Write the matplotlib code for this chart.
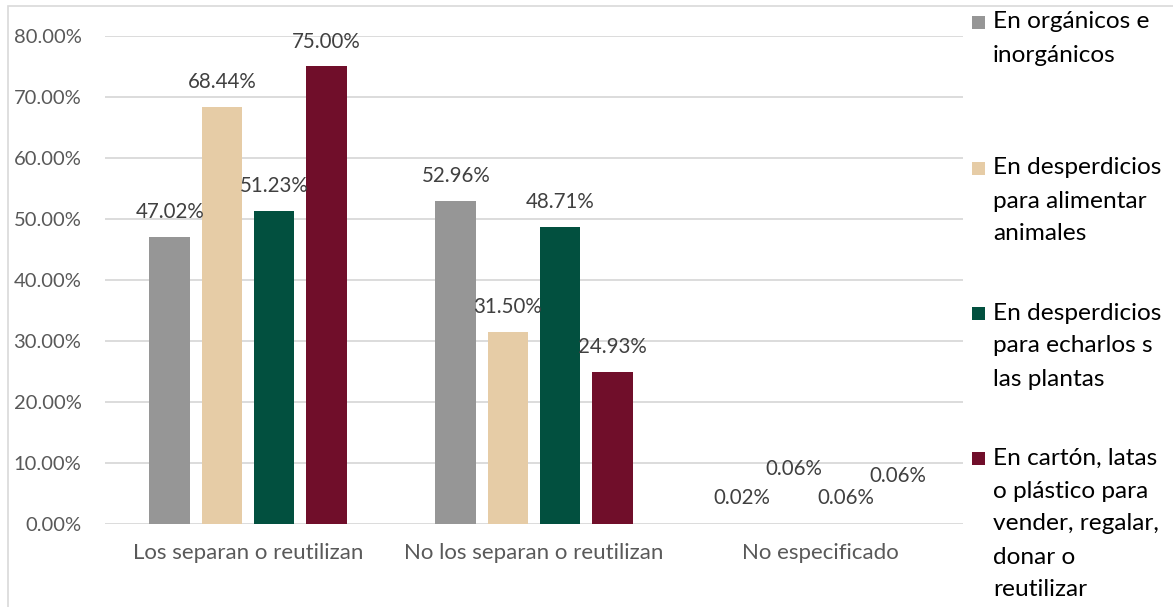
import matplotlib
matplotlib.use("Agg")
import matplotlib.pyplot as plt
from matplotlib.patches import Rectangle

categories = ["Los separan o reutilizan", "No los separan o reutilizan", "No especificado"]
series_names = [
    "En orgánicos e\ninorgánicos",
    "En desperdicios\npara alimentar\nanimales",
    "En desperdicios\npara echarlos s\nlas plantas",
    "En cartón, latas\no plástico para\nvender, regalar,\ndonar o\nreutilizar",
]
values = [
    [47.02, 52.96, 0.02],
    [68.44, 31.50, 0.06],
    [51.23, 48.71, 0.06],
    [75.00, 24.93, 0.06],
]
colors = ["#969696", "#E6CCA6", "#02503F", "#700E2A"]
yticks = [0, 10, 20, 30, 40, 50, 60, 70, 80]

# label offsets in pixels above bar top (Excel collision placement)
label_dy = [
    [25, 25, 26],
    [25, 25, 55],
    [25, 25, 26],
    [25, 25, 48],
]

plt.rcParams["font.family"] = ["Lato", "DejaVu Sans"]

W, H = 1173, 607
fig = plt.figure(figsize=(W / 100, H / 100), dpi=100)

# outer chart frame
fig.patches.append(Rectangle((8 / W, -0.1), 1.2, (H - 6) / H + 0.1,
                             transform=fig.transFigure, fill=False,
                             edgecolor="#D9D9D9", linewidth=1.2))

left, right = 105 / W, 963 / W
bottom, top = (H - 524) / H, (H - 36) / H
ax = fig.add_axes([left, bottom, right - left, top - bottom])

step = 0.182
width = 0.143
n = len(series_names)
for j, (name, vals, col) in enumerate(zip(series_names, values, colors)):
    xs = [i + (j - (n - 1) / 2) * step for i in range(len(categories))]
    ax.bar(xs, vals, width=width, color=col, label=name, zorder=3)
    for x, v, dy in zip(xs, vals, label_dy[j]):
        ax.annotate(f"{v:.2f}%", (x, v), xytext=(0, dy), textcoords="offset pixels",
                    ha="center", va="center", fontsize=14.8, color="#404040", zorder=4)

ax.set_xlim(-0.5, len(categories) - 0.5)
ax.set_ylim(0, 80)
ax.set_yticks(yticks)
ax.set_yticklabels([f"{t:.2f}%" for t in yticks], fontsize=14.5, color="#595959")
ax.set_xticks(range(len(categories)))
ax.set_xticklabels(categories, fontsize=16, color="#595959")
ax.tick_params(axis="y", length=0, pad=17)
ax.tick_params(axis="x", length=0, pad=14)
ax.grid(axis="y", color="#D9D9D9", linewidth=1.3, zorder=0)
for s in ax.spines.values():
    s.set_visible(False)

# legend (manual, right side)
line_h = 33
entry_y0 = [22, 168, 313, 458]
for name, col, y0 in zip(series_names, colors, entry_y0):
    fig.patches.append(Rectangle((972 / W, (H - y0 - 7) / H), 13 / W, 13 / H,
                                 transform=fig.transFigure, facecolor=col, edgecolor="none"))
    for k, line in enumerate(name.split("\n")):
        fig.text(993 / W, (H - y0 - k * line_h) / H, line, ha="left", va="center",
                 fontsize=17.6, color="#000000")

fig.savefig("out.png", dpi=100)
